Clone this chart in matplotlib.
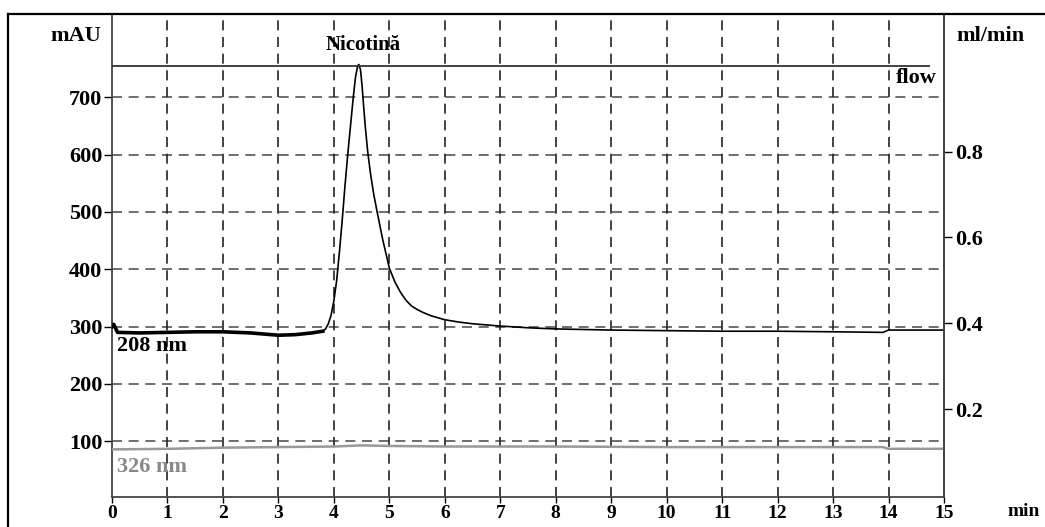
import matplotlib
matplotlib.use("Agg")
import matplotlib.pyplot as plt
from matplotlib.lines import Line2D

# 208 nm trace (time in min, absorbance in mAU)
t_208 = [0.0, 0.03, 0.1, 0.5, 1.0, 1.5, 2.0, 2.5, 3.0, 3.3, 3.6, 3.8,
         3.85, 3.9, 3.95, 4.0, 4.05, 4.1, 4.15, 4.2, 4.25, 4.3, 4.35, 4.39, 4.43,
         4.45, 4.48, 4.51, 4.54, 4.57, 4.61, 4.66, 4.72, 4.78, 4.88, 5.0, 5.1,
         5.2, 5.3, 5.4, 5.5, 5.6, 5.75, 6.0, 6.25, 6.5, 7.0, 7.5, 8.0, 9.0, 10.0,
         11.0, 12.0, 13.0, 13.9, 14.0, 15.0]
v_208 = [300, 304, 290, 289, 290, 291, 291, 289, 285, 286, 289, 292,
         296, 305, 320, 345, 380, 430, 485, 545, 600, 650, 700, 735, 755,
         757, 748, 718, 680, 645, 605, 567, 530, 500, 452, 402, 378,
         360, 346, 336, 330, 325, 319, 312, 308, 305, 301, 298, 296, 294, 293,
         292, 292, 291, 290, 294, 294]

# 326 nm trace
t_326 = [0.0, 1.0, 2.0, 3.0, 4.0, 4.5, 5.0, 6.0, 8.0, 10.0, 12.0, 13.9, 14.0, 15.0]
v_326 = [86, 87, 89, 90, 91, 93, 92, 91, 91, 90, 90, 90, 87, 87]

# flow (ml/min)
t_flow = [0.0, 14.73]
v_flow = [1.0, 1.0]

x_ticks = list(range(0, 16))
y_ticks = [100, 200, 300, 400, 500, 600, 700]
flow_ticks = [0.2, 0.4, 0.6, 0.8]

W, H = 1045, 527
font = {"family": "Liberation Serif", "weight": "bold"}


def fx(px):
    return px / W


def fy(py):
    return 1 - py / H


fig = plt.figure(figsize=(W / 100, H / 100), dpi=100)
ax = fig.add_axes([fx(112), fy(497), fx(944) - fx(112), fy(14) - fy(497)])

ax.set_xlim(0, 15)
ax.set_ylim(3, 845)

# grid
for y in y_ticks:
    ax.axhline(y, color="#555555", lw=1.2, ls=(0, (6, 4)), zorder=1)
for x in x_ticks[1:-1]:
    ax.axvline(x, color="#222222", lw=1.2, ls=(0, (6, 4)), zorder=1)

ax.plot(t_326, v_326, color="#999999", lw=1.8, zorder=3)
ax.plot(t_208, v_208, color="black", lw=1.2, zorder=4)
# noisy baseline looks thicker before the peak
ax.plot(t_208[:12], v_208[:12], color="black", lw=2.6, zorder=4)

ax.set_xticks(x_ticks)
ax.set_yticks(y_ticks)
ax.tick_params(axis="x", direction="out", length=4, width=1, pad=1.5, labelsize=14)
ax.tick_params(axis="y", direction="out", length=6, width=1, pad=1, labelsize=16)
for lab in ax.get_xticklabels() + ax.get_yticklabels():
    lab.set_fontfamily("Liberation Serif")
    lab.set_fontweight("bold")

for s in ["left", "right", "bottom"]:
    ax.spines[s].set_color("#444444")
    ax.spines[s].set_linewidth(1.3)
ax.spines["top"].set_visible(False)

ax2 = ax.twinx()
ax2.set_ylim(-0.004, 1.12)
ax2.plot(t_flow, v_flow, color="#333333", lw=1.3, zorder=2)
ax2.set_yticks(flow_ticks)
ax2.set_yticklabels([f"{v:.1f}" for v in flow_ticks])
ax2.tick_params(axis="y", direction="out", length=6, width=1, pad=2, labelsize=16)
for lab in ax2.get_yticklabels():
    lab.set_fontfamily("Liberation Serif")
    lab.set_fontweight("bold")
for s in ["left", "top", "bottom"]:
    ax2.spines[s].set_visible(False)
ax2.spines["right"].set_color("#444444")
ax2.spines["right"].set_linewidth(1.3)

# outer frame
fig.add_artist(Line2D([fx(8), 1], [fy(14), fy(14)], color="black", lw=1.6))
fig.add_artist(Line2D([fx(8), fx(8)], [0, fy(14)], color="black", lw=1.6))

# texts
fig.text(fx(76), fy(36), "mAU", ha="center", va="center", fontsize=16, **font)
fig.text(fx(990), fy(36), "ml/min", ha="center", va="center", fontsize=16, **font)
fig.text(fx(916), fy(78), "flow", ha="center", va="center", fontsize=16, **font)
fig.text(fx(363), fy(45), "Nicotină", ha="center", va="center", fontsize=15, **font)
fig.text(fx(117), fy(346), "208 nm", ha="left", va="center", fontsize=16,
         color="black", **font)
fig.text(fx(117), fy(467), "326 nm", ha="left", va="center", fontsize=16,
         color="#888888", **font)
fig.text(fx(1008), fy(512), "min", ha="left", va="center", fontsize=14, **font)

fig.savefig("out.png", dpi=100)
